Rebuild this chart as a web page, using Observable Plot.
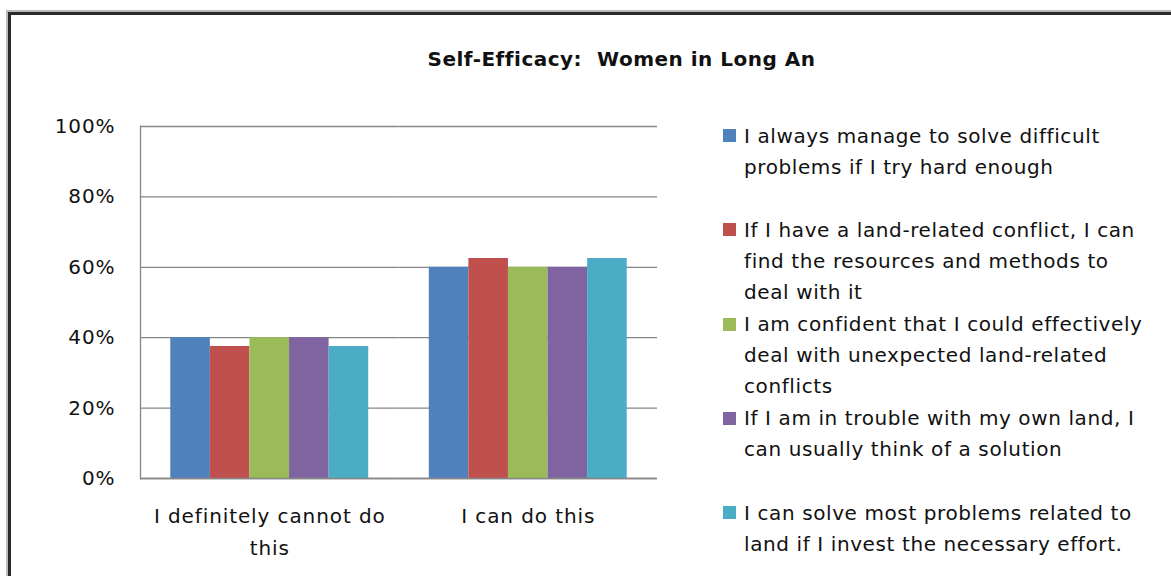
<!DOCTYPE html>
<html><head><meta charset="utf-8">
<script src="https://cdn.jsdelivr.net/npm/d3@7"></script>
<script src="https://cdn.jsdelivr.net/npm/@observablehq/plot@0.6"></script>
<style>
html,body{margin:0;padding:0;background:#fff;overflow:hidden;width:1171px;height:576px;}
body{position:relative;font-family:"DejaVu Sans",sans-serif;color:#111;}
#frame{position:absolute;left:8px;top:12px;width:1200px;height:600px;border-left:3px solid #2a2a2a;border-top:3px solid #2a2a2a;box-shadow:-2px -2px 0 0 #bbb;}
#chart{position:absolute;left:0;top:0;}
#title{position:absolute;left:0;width:1243px;top:47px;text-align:center;font-weight:bold;font-size:20px;letter-spacing:0.5px;line-height:24px;white-space:pre;}
#legend{position:absolute;left:723px;top:120.6px;}
.item{position:relative;height:94.3px;}
.sw{position:absolute;left:0;top:8.4px;width:13px;height:13px;}
.lab{position:absolute;left:21px;top:0;font-size:20px;letter-spacing:0.6px;line-height:31px;white-space:pre;}
svg text{letter-spacing:0.9px;}
</style></head>
<body>
<div id="frame"></div>
<div id="chart"></div>
<div id="title"></div>
<div id="legend"></div>
<script>
const titleText = "Self-Efficacy:  Women in Long An";
const cats = ["I definitely cannot do this", "I can do this"];
const catLabels = ["I definitely cannot do\nthis", "I can do this"];
const series = [
  "I always manage to solve difficult\nproblems if I try hard enough",
  "If I have a land-related conflict, I can\nfind the resources and methods to\ndeal with it",
  "I am confident that I could effectively\ndeal with unexpected land-related\nconflicts",
  "If I am in trouble with my own land, I\ncan usually think of a solution",
  "I can solve most problems related to\nland if I invest the necessary effort."
];
const colors = ["#4F81BD", "#C0504D", "#9BBB59", "#8064A2", "#4BACC6"];
const valsCannot = [40, 37.5, 40, 40, 37.5];
const valsCan = [60, 62.5, 60, 60, 62.5];
const yTicks = [0, 20, 40, 60, 80, 100];

const data = [];
cats.forEach((c, i) => series.forEach((s, j) =>
  data.push({cat: c, series: s, value: (i === 0 ? valsCannot : valsCan)[j]})));

const chart = Plot.plot({
  width: 700, height: 576,
  marginLeft: 140, marginRight: 43, marginTop: 126, marginBottom: 98,
  style: {fontFamily: "DejaVu Sans", fontSize: "20px", color: "#111", background: "transparent"},
  fx: {domain: cats, padding: 0, round: false, label: null},
  x: {domain: series, paddingInner: 0, paddingOuter: 0.765, round: false, axis: null},
  y: {domain: [0, 100], label: null},
  color: {domain: series, range: colors},
  marks: [
    Plot.gridY(yTicks, {stroke: "#868686", strokeOpacity: 1, strokeWidth: 1.3}),
    Plot.barY(data, {fx: "cat", x: "series", y: "value", fill: "series"}),
    Plot.ruleY([0], {stroke: "#868686", strokeWidth: 1.3}),
    Plot.frame({anchor: "left", facet: "super", stroke: "#868686", strokeWidth: 1.3}),
    Plot.axisY(yTicks, {tickSize: 0, tickPadding: 25, tickFormat: d => d + "%", label: null}),
    Plot.axisFx({anchor: "bottom", tickSize: 0, tickPadding: 22, lineHeight: 1.6, tickFormat: d => catLabels[cats.indexOf(d)], label: null})
  ]
});
document.getElementById("chart").appendChild(chart);
document.getElementById("title").textContent = titleText;

const legend = document.getElementById("legend");
series.forEach((s, i) => {
  const item = document.createElement("div");
  item.className = "item";
  const sw = document.createElement("div");
  sw.className = "sw";
  sw.style.background = colors[i];
  const lab = document.createElement("div");
  lab.className = "lab";
  lab.textContent = s;
  item.appendChild(sw);
  item.appendChild(lab);
  legend.appendChild(item);
});
</script>
</body></html>
